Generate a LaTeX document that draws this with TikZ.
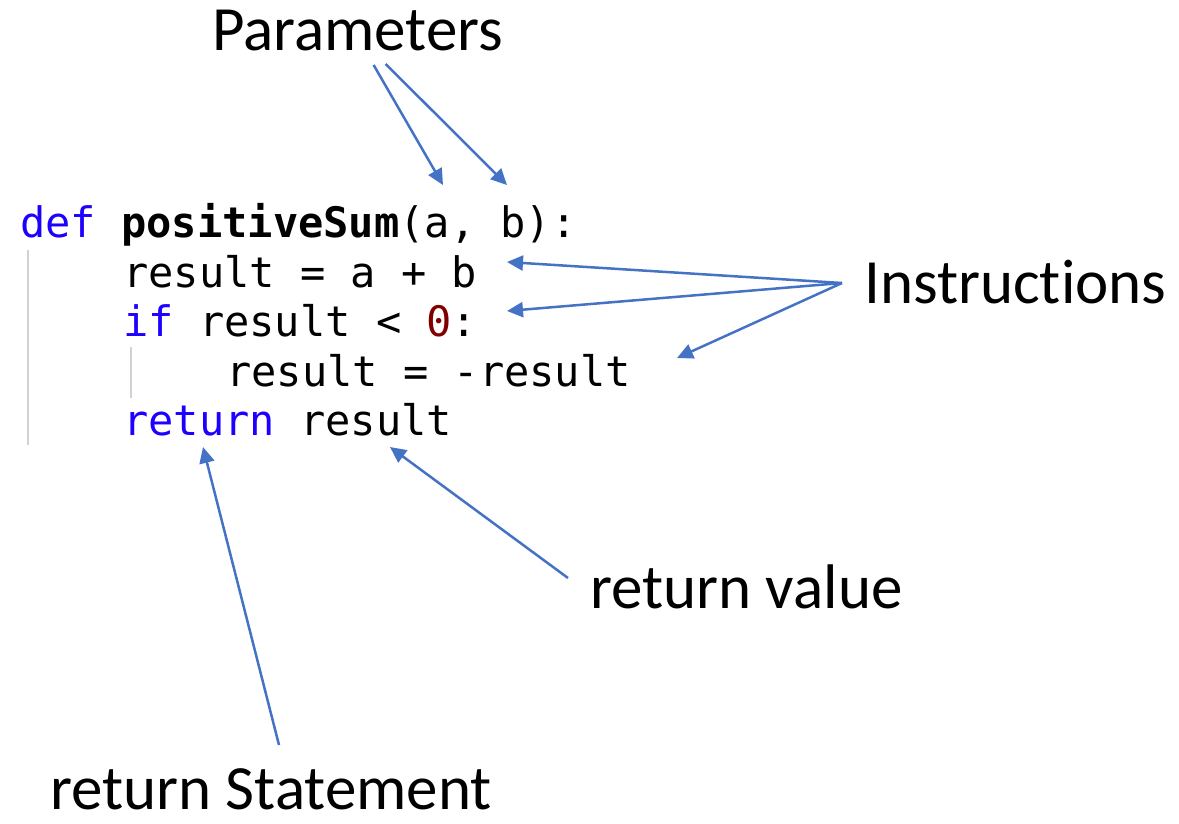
\documentclass[tikz,border=0pt]{standalone}
\usepackage{fontspec}
\setmainfont{Carlito}[Ligatures=NoCommon]
\newfontfamily\codefont{DejaVu Sans Mono}
\usetikzlibrary{arrows.meta}
\definecolor{arrowblue}{RGB}{68,114,196}
\definecolor{kwblue}{RGB}{30,0,255}
\definecolor{numred}{RGB}{128,0,0}
\definecolor{guidegray}{RGB}{210,210,210}
\newcommand{\kw}[1]{\textcolor{kwblue}{#1}}
\begin{document}
\begin{tikzpicture}[x=1pt,y=-1pt,
    label/.style={inner sep=0pt,anchor=base west,font=\fontsize{63}{75}\selectfont},
    code/.style={inner sep=0pt,anchor=base west,font=\codefont\fontsize{42}{50}\selectfont},
    guide/.style={guidegray,line width=2pt},
    pointer/.style={arrowblue,line width=2.5pt,-{Triangle[length=16pt,width=15pt]}}]
        \useasboundingbox (0,0) rectangle (1179,823);
        \node [code] (line1) at (20,237) {\kw{def} \textbf{positiveSum}(a, b):};
        \node [code] (line2) at (123,287) {result = a + b};
        \node [code] (line3) at (123,336) {\kw{if} result < \textcolor{numred}{0}:};
        \node [code] (line4) at (226,386) {result = -result};
        \node [code] (line5) at (123,435) {\kw{return} result};
        \draw [guide] (28,250) -- (28,445);
        \draw [guide] (131,347) -- (131,398);
        \node [label] (params) at (212,50) {Parameters};
        \node [label] (instr) at (864,303) {Instructions};
        \node [label] (rval) at (590,608) {return value};
        \node [label] (rstat) at (50,809) {return Statement};
        \coordinate (pa) at (443,185);
        \coordinate (pb) at (507,185);
        \coordinate (i1) at (507,262);
        \coordinate (i2) at (507,311);
        \coordinate (i3) at (677,358);
        \coordinate (rv) at (390,447);
        \coordinate (rs) at (203,447);
        \draw [pointer] ([xshift=16pt,yshift=-15pt]params.base) -- (pa);
        \draw [pointer] ([xshift=28pt,yshift=-14pt]params.base) -- (pb);
        \draw [pointer] ([xshift=-22pt,yshift=20pt]instr.base west) -- (i1);
        \draw [pointer] ([xshift=-22pt,yshift=20pt]instr.base west) -- (i2);
        \draw [pointer] ([xshift=-22pt,yshift=20pt]instr.base west) -- (i3);
        \draw [pointer] ([xshift=-22pt,yshift=30pt]rval.base west) -- (rv);
        \draw [pointer] ([xshift=8pt,yshift=64pt]rstat.base) -- (rs);
\end{tikzpicture}
\end{document}
